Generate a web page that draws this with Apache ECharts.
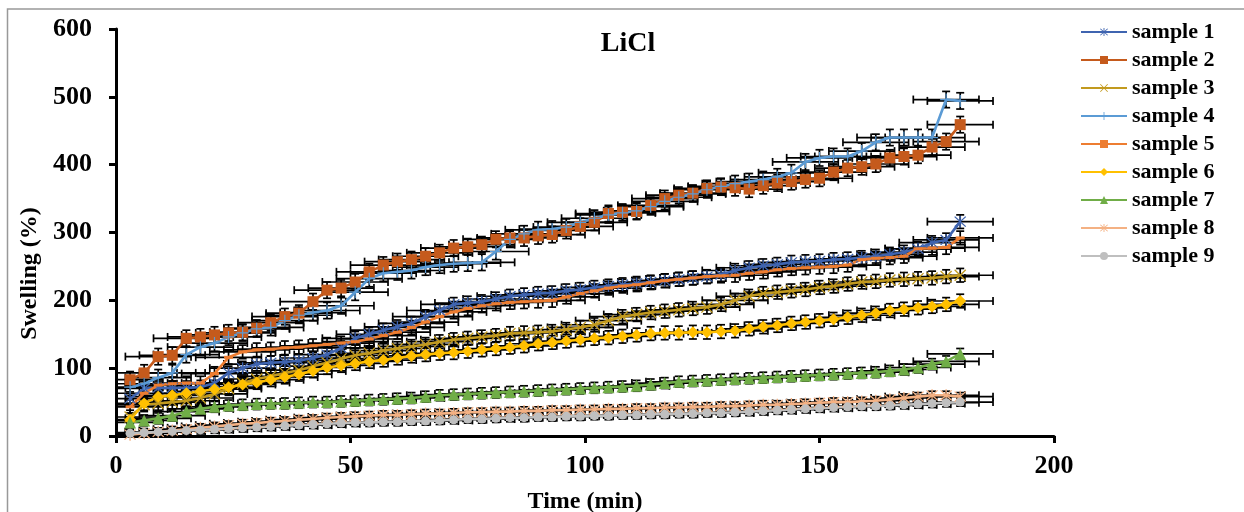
<!DOCTYPE html>
<html>
<head>
<meta charset="utf-8">
<script src="https://cdn.jsdelivr.net/npm/echarts@6/dist/echarts.min.js"></script>
<style>
html,body{margin:0;padding:0;background:#fff;}
#chart{width:1244px;height:512px;}
</style>
</head>
<body>
<div id="chart"></div>
<script>
// ---- data ----
const times = [3,6,9,12,15,18,21,24,27,30,33,36,39,42,45,48,51,54,57,60,
  63,66,69,72,75,78,81,84,87,90,93,96,99,102,105,108,111,114,117,120,
  123,126,129,132,135,138,141,144,147,150,153,156,159,162,165,168,171,174,177,180];

const sample1 = [55,70,71,71,71,72,78,93,100,106, 108,109,111,115,120,130,144,150,156,161,
  166,176,185,194,196,198,202,206,208,210, 211,214,216,219,221,223,225,227,229,231,
  233,235,238,244,248,251,253,256,257,258, 260,261,263,265,268,271,276,285,289,316];
const sample2 = [83,93,117,119,144,146,149,152,153,159, 167,176,181,198,215,218,227,242,252,257,
  260,265,270,277,279,282,290,292,292,295, 297,303,309,315,328,330,331,340,350,355,
  358,365,367,366,364,369,373,375,378,380, 389,395,397,401,410,412,414,426,434,459];
const sample3 = [28,46,48,50,52,56,62,70,78,84, 88,93,97,103,108,114,119,122,126,129,
  132,135,139,142,144,146,148,151,152,153, 154,157,160,164,170,176,179,182,184,186,
  188,190,194,200,206,210,212,214,216,219, 221,224,227,228,230,231,232,233,235,237];
const sample4 = [72,77,86,93,120,131,137,146,152,158, 160,170,178,182,185,192,212,232,240,242,
  244,249,252,254,255,256,272,290,298,304, 305,308,315,321,326,329,332,338,346,352,
  357,363,368,372,375,378,382,388,404,410, 412,412,420,433,440,440,440,440,496,494];
const sample5 = [43,63,75,77,78,78,92,116,124,127, 128,130,131,133,135,137,139,143,148,153,
  160,168,176,183,188,192,195,197,198,199, 200,205,210,214,218,221,223,226,229,231,
  233,235,236,237,240,242,245,247,248,249, 250,252,260,262,263,265,276,277,278,292];
const sample6 = [24,48,58,60,63,66,69,72,76,79, 83,87,91,96,101,104,107,110,112,115,
  118,120,122,123,125,127,129,131,133,136, 138,140,142,144,145,147,149,151,152,152,
  153,153,154,155,158,161,163,166,168,170, 172,175,178,181,185,187,189,191,194,199];
const sample7 = [20,23,26,30,36,40,43,45,46,47, 48,48,49,50,50,51,52,53,54,55,
  56,58,60,61,62,63,64,65,66,67, 68,69,70,71,72,73,74,76,78,80,
  81,82,83,84,85,86,87,88,89,90, 91,92,93,94,96,98,101,106,110,121];
const sample8 = [2,4,6,8,10,12,14,16,18,19, 21,22,24,25,27,28,29,30,31,31,
  32,33,33,34,35,35,36,36,37,37, 38,38,39,39,40,40,41,41,42,42,
  43,43,44,44,45,46,46,47,48,49, 50,50,51,52,54,56,58,60,60,58];
const sample9 = [4,5,6,7,8,9,10,11,12,13, 14,15,16,17,18,19,20,20,21,21,
  22,22,23,24,25,25,26,27,27,28, 28,29,29,30,30,31,31,32,32,33,
  33,34,34,35,36,37,38,39,40,41, 42,43,44,44,45,46,47,48,49,50];

const seriesNames = ['sample 1','sample 2','sample 3','sample 4','sample 5','sample 6','sample 7','sample 8','sample 9'];
const seriesValues = [sample1,sample2,sample3,sample4,sample5,sample6,sample7,sample8,sample9];
const xErr = 7;                                   // min
const yErrs = [10,12,10,12,10,10,8,6,6];          // % swelling
const xTicks = [0,50,100,150,200];
const yTicks = [0,100,200,300,400,500,600];

// ---- styling ----
const FONT = '"Liberation Serif","Times New Roman",serif';
const colors = ['#3F64B0','#C55A1C','#C29A1E','#5B9BD5','#ED7D31','#FFC000','#70AD47','#F4B183','#BFBFBF'];
const ASTER = 'path://M9,0H11V20H9Z M1,2.4L2.4,1L19,17.6L17.6,19Z M17.6,1L19,2.4L2.4,19L1,17.6Z';
const XMARK = 'path://M1,2.4L2.4,1L19,17.6L17.6,19Z M17.6,1L19,2.4L2.4,19L1,17.6Z';
const PLUS = 'path://M9,0H11V20H9Z M0,9H20V11H0Z';
const symbols = [ASTER,'rect',XMARK,PLUS,'rect','diamond','triangle',ASTER,'circle'];
const symbolSizes = [12,11,12,12,[9,3],12,12,12,9];

function makeErr(idx){
  return function(params, api){
    const t = api.value(0), v = api.value(1);
    const e = yErrs[idx];
    const c = api.coord([t, v]);
    const l = api.coord([t - xErr, v]);
    const r = api.coord([t + xErr, v]);
    const up = api.coord([t, v + e]);
    const dn = api.coord([t, v - e]);
    const cap = 4;
    const st = {stroke:'#000', lineWidth:1.7};
    return {type:'group', children:[
      {type:'line', shape:{x1:l[0],y1:c[1],x2:r[0],y2:c[1]}, style:st},
      {type:'line', shape:{x1:l[0],y1:c[1]-cap,x2:l[0],y2:c[1]+cap}, style:st},
      {type:'line', shape:{x1:r[0],y1:c[1]-cap,x2:r[0],y2:c[1]+cap}, style:st},
      {type:'line', shape:{x1:c[0],y1:up[1],x2:c[0],y2:dn[1]}, style:st},
      {type:'line', shape:{x1:c[0]-cap,y1:up[1],x2:c[0]+cap,y2:up[1]}, style:st},
      {type:'line', shape:{x1:c[0]-cap,y1:dn[1],x2:c[0]+cap,y2:dn[1]}, style:st}
    ]};
  };
}

const series = [];
seriesValues.forEach((vals, i) => {
  series.push({
    type:'custom', name:'err ' + (i+1), renderItem: makeErr(i),
    data: times.map((t, k) => [t, vals[k]]), z: 1, silent: true, clip: true
  });
});
seriesValues.forEach((vals, i) => {
  series.push({
    type:'line', name: seriesNames[i],
    data: times.map((t, k) => [t, vals[k]]),
    symbol: symbols[i], symbolSize: symbolSizes[i], showAllSymbol: true,
    lineStyle:{color:colors[i], width:2.6},
    itemStyle:{color:colors[i], borderWidth:0},
    z: 2
  });
});

const chart = echarts.init(document.getElementById('chart'), null, {renderer:'canvas'});
chart.setOption({
  animation:false,
  backgroundColor:'#fff',
  color: colors,
  grid:{left:116, right:190, top:29, bottom:76, containLabel:false, outerBoundsMode:'none'},
  legend:{
    data: seriesNames, orient:'vertical', left:1080, top:16,
    itemWidth:46, itemHeight:10, itemGap:6, padding:[5,0,5,0],
    textStyle:{fontFamily:FONT, fontWeight:'bold', fontSize:22, color:'#000', lineHeight:22}
  },
  xAxis:{
    type:'value', min:xTicks[0], max:xTicks[xTicks.length-1], interval:50,
    name:'Time (min)', nameLocation:'middle', nameGap:54,
    nameTextStyle:{fontFamily:FONT, fontWeight:'bold', fontSize:24, color:'#000'},
    axisLine:{lineStyle:{color:'#000', width:3}},
    axisTick:{show:true, length:7, lineStyle:{color:'#000', width:3}},
    axisLabel:{fontFamily:FONT, fontWeight:'bold', fontSize:26, color:'#000', margin:17},
    splitLine:{show:false}
  },
  yAxis:{
    type:'value', min:yTicks[0], max:yTicks[yTicks.length-1], interval:100,
    name:'Swelling (%)', nameLocation:'middle', nameGap:74, nameRotate:90,
    nameTextStyle:{fontFamily:FONT, fontWeight:'bold', fontSize:24, color:'#000', padding:[0,82,0,0]},
    axisLine:{show:true, lineStyle:{color:'#000', width:3}},
    axisTick:{show:true, length:7, lineStyle:{color:'#000', width:3}},
    axisLabel:{fontFamily:FONT, fontWeight:'bold', fontSize:26, color:'#000', margin:24},
    splitLine:{show:false}
  },
  graphic:[
    {type:'rect', shape:{x:7.5, y:9, width:1400, height:700}, style:{fill:'none', stroke:'#999', lineWidth:1.5}, silent:true, z:-10},
    {type:'text', x:628, y:44, style:{text:'LiCl', fontFamily:FONT, fontWeight:'bold', fontSize:28, fill:'#000', align:'center', verticalAlign:'middle'}}
  ],
  series: series
});
</script>
</body>
</html>
